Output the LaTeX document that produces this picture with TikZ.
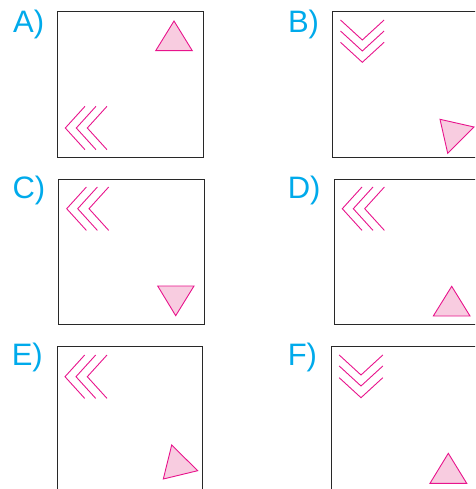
\documentclass[tikz,border=0pt]{standalone}
\usepackage{fontspec}
\setmainfont{Liberation Sans}
\definecolor{mag}{RGB}{232,20,140}
\definecolor{pinkfill}{RGB}{248,204,224}
\definecolor{labcyan}{RGB}{0,170,235}
\definecolor{boxgray}{RGB}{40,40,40}
\newcommand{\chevL}[3]{% tip x, tip y, name
  \draw[chev] (#1+19.7,#2-21.7) -- (#1,#2) -- (#1+19.7,#2+21.7);}
\newcommand{\chevD}[3]{%
  \draw[chev] (#1-21.8,#2-20) -- (#1,#2) -- (#1+21.8,#2-20);}
\begin{document}
\begin{tikzpicture}[x=1pt,y=-1pt,
  frame/.style={draw=boxgray,line width=1pt},
  chev/.style={draw=mag,line width=0.9pt},
  tri/.style={draw=mag,fill=pinkfill,line width=0.9pt,line join=miter},
  lab/.style={anchor=base west,inner sep=0pt,text=labcyan,font=\fontsize{31}{31}\selectfont}]
\useasboundingbox (0,0) rectangle (475,489);
\clip (0,0) rectangle (475,489);
% labels
\node[lab] (la) at (13,32.3) {A)};
\node[lab] (lb) at (287.8,32.3) {B)};
\node[lab] (lc) at (12.4,198.5) {C)};
\node[lab] (ld) at (287.6,198.5) {D)};
\node[lab] (le) at (11.6,365.8) {E)};
\node[lab] (lf) at (287.6,365.8) {F)};
% frames
\draw[frame] (57,12) rectangle (203,157);
\draw[frame] (332.7,12) rectangle (485,157.3);
\draw[frame] (58.7,179.3) rectangle (204,324.3);
\draw[frame] (334.3,179.3) rectangle (485,324.3);
\draw[frame] (57,346) rectangle (202.3,500);
\draw[frame] (331,346) rectangle (485,500);
% A
\draw[tri] (174,21) -- (192.3,50.7) -- (155.7,50.7) -- cycle;
\chevL{65.3}{128}{a1}\chevL{76.3}{128}{a2}\chevL{87.3}{128}{a3}
% B
\chevD{362.3}{40}{b1}\chevD{362.3}{51}{b2}\chevD{362.3}{62.3}{b3}
\draw[tri] (440,119.3) -- (474,127) -- (447.7,153.3) -- cycle;
% C
\chevL{66.7}{208.7}{c1}\chevL{77.7}{208.7}{c2}\chevL{89}{208.7}{c3}
\draw[tri] (157.7,286) -- (194,286) -- (175.7,315.7) -- cycle;
% D
\chevL{342.3}{208.7}{d1}\chevL{353.3}{208.7}{d2}\chevL{364.7}{208.7}{d3}
\draw[tri] (451.7,286.3) -- (470,316) -- (433.3,316) -- cycle;
% E
\chevL{65}{376.7}{e1}\chevL{76}{376.7}{e2}\chevL{87.3}{376.7}{e3}
\draw[tri] (171.7,445) -- (197.7,470.7) -- (163.3,479) -- cycle;
% F
\chevD{361}{375}{f1}\chevD{361}{386}{f2}\chevD{361}{397.7}{f3}
\draw[tri] (448.3,453.3) -- (466.7,483.3) -- (430,483.3) -- cycle;
\end{tikzpicture}
\end{document}
